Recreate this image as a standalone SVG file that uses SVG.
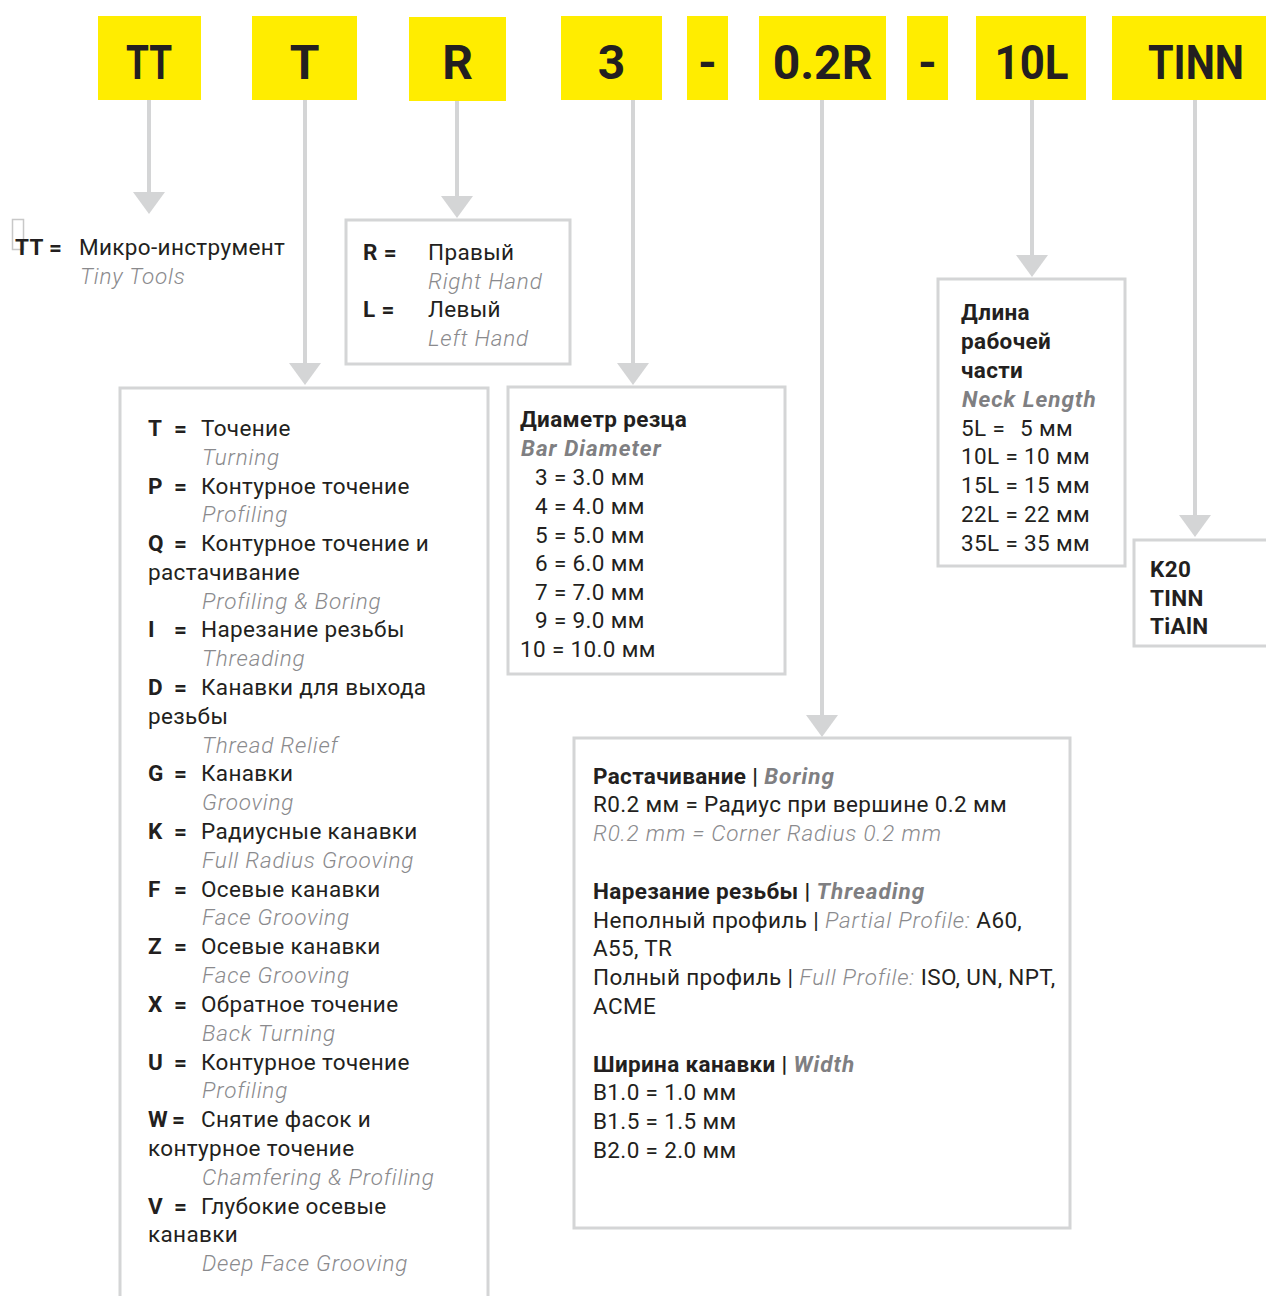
<svg xmlns="http://www.w3.org/2000/svg" width="1266" height="1296" viewBox="0 0 1266 1296">
<style>
text{font-family:Roboto,"Liberation Sans",sans-serif;font-size:22.5px;letter-spacing:0.35px;fill:#231f20}
.b{font-weight:700;letter-spacing:0.35px}
.i{font-style:italic;font-weight:300;fill:#8a8a8d;letter-spacing:0.8px}
.bi{font-style:italic;font-weight:700;fill:#7f7f82;letter-spacing:1px}
.h{font-size:48px;font-weight:700;text-anchor:middle;letter-spacing:0}
.y{fill:#ffed00}
.box{fill:#fff;stroke:#d4d5d6;stroke-width:3}
.c{stroke:#d4d5d6;stroke-width:4;fill:none;marker-end:url(#ah)}
</style>
<defs>
<marker id="ah" markerUnits="userSpaceOnUse" markerWidth="32" markerHeight="22" refX="16" refY="0" orient="0" viewBox="0 0 32 22">
<path d="M0,0 L32,0 L16,22 Z" fill="#d4d5d6"/>
</marker>
</defs>
<rect width="1266" height="1296" fill="#fff"/>

<g id="connectors">
<line class="c" x1="149" y1="100" x2="149" y2="192"/>
<line class="c" x1="305" y1="100" x2="305" y2="363"/>
<line class="c" x1="457" y1="101" x2="457" y2="196"/>
<line class="c" x1="633" y1="100" x2="633" y2="363"/>
<line class="c" x1="822" y1="100" x2="822" y2="715"/>
<line class="c" x1="1032" y1="100" x2="1032" y2="255"/>
<line class="c" x1="1195" y1="100" x2="1195" y2="515"/>
</g>

<g id="code-TT"><rect class="y" x="98" y="16" width="103" height="84"/><text class="h" x="149" y="79" textLength="46" lengthAdjust="spacingAndGlyphs">TT</text></g>
<g id="code-T"><rect class="y" x="252" y="16" width="105" height="84"/><text class="h" x="304.5" y="79">T</text></g>
<g id="code-R"><rect class="y" x="409" y="17" width="97" height="84"/><text class="h" x="457.5" y="79">R</text></g>
<g id="code-3"><rect class="y" x="561" y="16" width="101" height="84"/><text class="h" x="611.5" y="79">3</text></g>
<g id="code-dash1"><rect class="y" x="687" y="16" width="41" height="84"/><text class="h" x="707.5" y="79">-</text></g>
<g id="code-02R"><rect class="y" x="759" y="16" width="127" height="84"/><text class="h" x="822.5" y="79">0.2R</text></g>
<g id="code-dash2"><rect class="y" x="907" y="16" width="41" height="84"/><text class="h" x="927.5" y="79">-</text></g>
<g id="code-10L"><rect class="y" x="976" y="16" width="110" height="84"/><text class="h" x="1031.5" y="79" textLength="74" lengthAdjust="spacingAndGlyphs">10L</text></g>
<g id="code-TINN"><rect class="y" x="1112" y="16" width="154" height="84"/><text class="h" x="1196" y="79" textLength="96" lengthAdjust="spacingAndGlyphs">TINN</text></g>

<g id="node-TT">
<rect x="12.5" y="219.5" width="11" height="30" fill="none" stroke="#c8c8c8" stroke-width="1.5"/>
<text class="b" x="15" y="255" letter-spacing="0">TT =</text>
<text x="79" y="255">Микро-инструмент</text>
<text class="i" x="80" y="284">Tiny Tools</text>
</g>

<g id="node-R">
<rect class="box" x="346" y="220" width="224" height="144"/>
<text class="b" x="363" y="260">R =</text>
<text x="428" y="260">Правый</text>
<text class="i" x="428" y="289">Right Hand</text>
<text class="b" x="363" y="317">L =</text>
<text x="428" y="317">Левый</text>
<text class="i" x="428" y="346">Left Hand</text>
</g>

<g id="node-T">
<rect class="box" x="120" y="388" width="368" height="920"/>
<text x="148" y="436"><tspan class="b">T</tspan><tspan class="b" x="174">=</tspan><tspan x="201">Точение</tspan></text>
<text class="i" x="202" y="465">Turning</text>
<text x="148" y="494"><tspan class="b">P</tspan><tspan class="b" x="174">=</tspan><tspan x="201">Контурное точение</tspan></text>
<text class="i" x="202" y="522">Profiling</text>
<text x="148" y="551"><tspan class="b">Q</tspan><tspan class="b" x="174">=</tspan><tspan x="201">Контурное точение и</tspan></text>
<text x="148" y="580">растачивание</text>
<text class="i" x="202" y="609">Profiling &amp; Boring</text>
<text x="148" y="637"><tspan class="b">I</tspan><tspan class="b" x="174">=</tspan><tspan x="201">Нарезание резьбы</tspan></text>
<text class="i" x="202" y="666">Threading</text>
<text x="148" y="695"><tspan class="b">D</tspan><tspan class="b" x="174">=</tspan><tspan x="201">Канавки для выхода</tspan></text>
<text x="148" y="724">резьбы</text>
<text class="i" x="202" y="753">Thread Relief</text>
<text x="148" y="781"><tspan class="b">G</tspan><tspan class="b" x="174">=</tspan><tspan x="201">Канавки</tspan></text>
<text class="i" x="202" y="810">Grooving</text>
<text x="148" y="839"><tspan class="b">K</tspan><tspan class="b" x="174">=</tspan><tspan x="201">Радиусные канавки</tspan></text>
<text class="i" x="202" y="868">Full Radius Grooving</text>
<text x="148" y="897"><tspan class="b">F</tspan><tspan class="b" x="174">=</tspan><tspan x="201">Осевые канавки</tspan></text>
<text class="i" x="202" y="925">Face Grooving</text>
<text x="148" y="954"><tspan class="b">Z</tspan><tspan class="b" x="174">=</tspan><tspan x="201">Осевые канавки</tspan></text>
<text class="i" x="202" y="983">Face Grooving</text>
<text x="148" y="1012"><tspan class="b">X</tspan><tspan class="b" x="174">=</tspan><tspan x="201">Обратное точение</tspan></text>
<text class="i" x="202" y="1041">Back Turning</text>
<text x="148" y="1070"><tspan class="b">U</tspan><tspan class="b" x="174">=</tspan><tspan x="201">Контурное точение</tspan></text>
<text class="i" x="202" y="1098">Profiling</text>
<text x="148" y="1127"><tspan class="b">W</tspan><tspan class="b" x="172">=</tspan><tspan x="201">Снятие фасок и</tspan></text>
<text x="148" y="1156">контурное точение</text>
<text class="i" x="202" y="1185">Chamfering &amp; Profiling</text>
<text x="148" y="1214"><tspan class="b">V</tspan><tspan class="b" x="174">=</tspan><tspan x="201">Глубокие осевые</tspan></text>
<text x="148" y="1242">канавки</text>
<text class="i" x="202" y="1271">Deep Face Grooving</text>
</g>

<g id="node-3">
<rect class="box" x="508" y="387" width="277" height="287"/>
<text class="b" x="520" y="427">Диаметр резца</text>
<text class="bi" x="521" y="456">Bar Diameter</text>
<text x="535" y="485">3 = 3.0 мм</text>
<text x="535" y="514">4 = 4.0 мм</text>
<text x="535" y="543">5 = 5.0 мм</text>
<text x="535" y="571">6 = 6.0 мм</text>
<text x="535" y="600">7 = 7.0 мм</text>
<text x="535" y="628">9 = 9.0 мм</text>
<text x="520" y="657">10 = 10.0 мм</text>
</g>

<g id="node-10L">
<rect class="box" x="938" y="279" width="187" height="287"/>
<text class="b" x="961" y="320">Длина</text>
<text class="b" x="961" y="349">рабочей</text>
<text class="b" x="961" y="378">части</text>
<text class="bi" x="962" y="407">Neck Length</text>
<text x="961" y="436">5L =<tspan x="1020">5 мм</tspan></text>
<text x="961" y="464">10L = 10 мм</text>
<text x="961" y="493">15L = 15 мм</text>
<text x="961" y="522">22L = 22 мм</text>
<text x="961" y="551">35L = 35 мм</text>
</g>

<g id="node-TINN">
<rect class="box" x="1134" y="540" width="140" height="106"/>
<text class="b" x="1150" y="577">K20</text>
<text class="b" x="1150" y="606">TINN</text>
<text class="b" x="1150" y="634">TiAlN</text>
</g>

<g id="node-02R">
<rect class="box" x="574" y="738" width="496" height="490"/>
<text x="593" y="784"><tspan class="b">Растачивание | </tspan><tspan class="bi">Boring</tspan></text>
<text x="593" y="812">R0.2 мм = Радиус при вершине 0.2 мм</text>
<text class="i" x="593" y="841">R0.2 mm = Corner Radius 0.2 mm</text>
<text x="593" y="899"><tspan class="b">Нарезание резьбы | </tspan><tspan class="bi">Threading</tspan></text>
<text x="593" y="928">Неполный профиль | <tspan class="i">Partial Profile:</tspan> A60,</text>
<text x="593" y="956">A55, TR</text>
<text x="593" y="985">Полный профиль | <tspan class="i">Full Profile:</tspan> ISO, UN, NPT,</text>
<text x="593" y="1014">ACME</text>
<text x="593" y="1072"><tspan class="b">Ширина канавки | </tspan><tspan class="bi">Width</tspan></text>
<text x="593" y="1100">B1.0 = 1.0 мм</text>
<text x="593" y="1129">B1.5 = 1.5 мм</text>
<text x="593" y="1158">B2.0 = 2.0 мм</text>
</g>
</svg>
